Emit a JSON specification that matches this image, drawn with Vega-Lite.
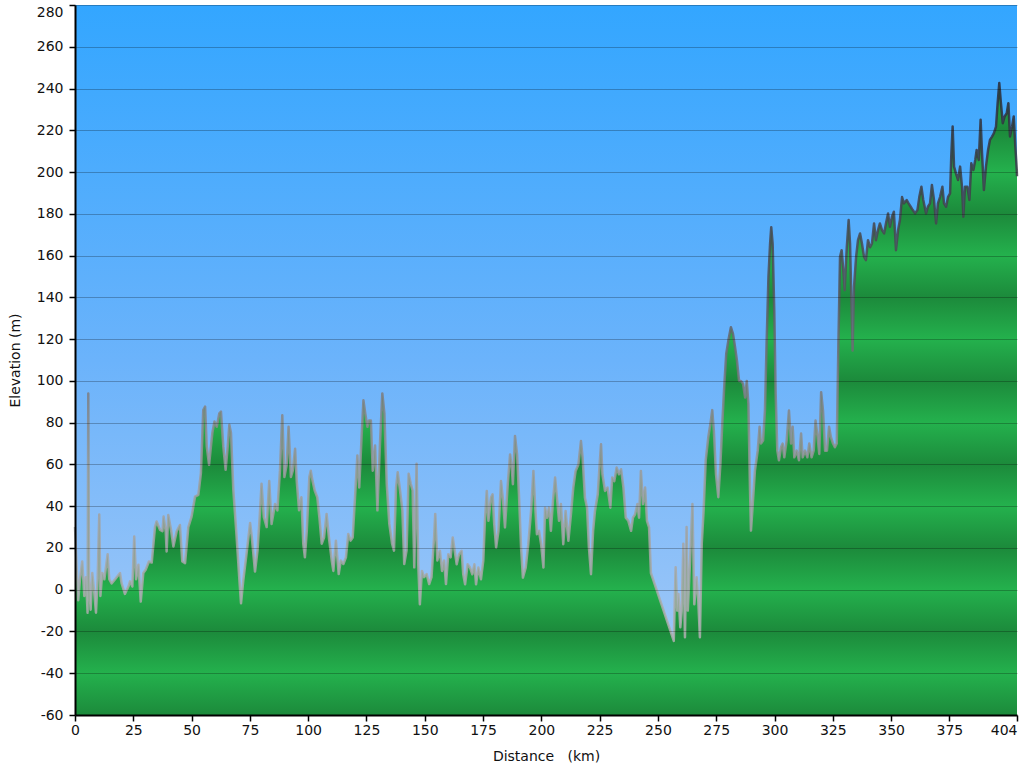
{
"$schema": "https://vega.github.io/schema/vega-lite/v6.json",
"width": 942, "height": 710,
"autosize": {"type": "none"},
"padding": {"left": 75, "top": 5, "right": 7, "bottom": 53},
"background": "white",
"config": {"view": {"stroke": null}},
"data": {"values": [
{"d":0,"e":30},{"d":0.7,"e":11},{"d":1.4,"e":-5},{"d":2.1,"e":4.7},{"d":3.1,"e":13.5},{"d":4.0,"e":-3},{"d":4.7,"e":6},{"d":5.4,"e":-11},{"d":5.7,"e":94},{"d":6.0,"e":4.7},{"d":6.7,"e":-9.6},{"d":7.4,"e":8},{"d":8.3,"e":-1.7},{"d":9.0,"e":-11},{"d":9.7,"e":4.7},{"d":10.4,"e":36},{"d":10.9,"e":-3},{"d":11.7,"e":8},{"d":12.6,"e":5},{"d":14.0,"e":17},{"d":14.7,"e":5},{"d":15.7,"e":3},{"d":17.2,"e":5},{"d":19.3,"e":8},{"d":20.0,"e":3},{"d":21.4,"e":-2},{"d":22.9,"e":1.5},{"d":23.6,"e":4},{"d":24.6,"e":1.5},{"d":25.4,"e":25.5},{"d":26.2,"e":5},{"d":27.2,"e":12},{"d":28.2,"e":-5.7},{"d":29.3,"e":8},{"d":30.3,"e":9.5},{"d":31.7,"e":13.5},{"d":32.9,"e":13},{"d":34.3,"e":30},{"d":35.0,"e":32.7},{"d":36.5,"e":28.6},{"d":37.5,"e":28},{"d":38.0,"e":35},{"d":38.9,"e":28},{"d":39.3,"e":18.3},{"d":40.0,"e":35.8},{"d":41.2,"e":28.6},{"d":42.2,"e":20.7},{"d":43.6,"e":28},{"d":45.0,"e":31},{"d":46.0,"e":13.5},{"d":47.2,"e":12.7},{"d":48.6,"e":30},{"d":50.0,"e":35},{"d":51.5,"e":44.6},{"d":52.9,"e":45.4},{"d":54.0,"e":55.8},{"d":55.0,"e":86},{"d":55.8,"e":87.7},{"d":56.5,"e":68.6},{"d":57.5,"e":59.8},{"d":58.3,"e":68.6},{"d":58.9,"e":75},{"d":59.8,"e":80.5},{"d":60.8,"e":78},{"d":61.9,"e":84.5},{"d":62.6,"e":85.3},{"d":63.6,"e":68.6},{"d":64.6,"e":57.4},{"d":65.5,"e":68.6},{"d":66.2,"e":79},{"d":66.9,"e":75},{"d":67.9,"e":47.8},{"d":69.3,"e":25.5},{"d":70.5,"e":4.7},{"d":71.2,"e":-6.5},{"d":72.2,"e":4.7},{"d":73.6,"e":17.5},{"d":75.1,"e":32},{"d":75.8,"e":25.5},{"d":77.2,"e":8.7},{"d":78.3,"e":19},{"d":79.3,"e":36.6},
{"d":80.0,"e":50.7},{"d":81.0,"e":34.7},{"d":82.2,"e":30},{"d":83.3,"e":52},{"d":84.3,"e":31.5},{"d":85.8,"e":41},{"d":86.8,"e":38},{"d":87.9,"e":57},{"d":88.9,"e":83.5},{"d":89.8,"e":54},{"d":90.8,"e":60},{"d":91.6,"e":78},{"d":92.6,"e":54},{"d":93.4,"e":57},{"d":94.4,"e":67.5},{"d":95.1,"e":52},{"d":96.1,"e":38},{"d":97.1,"e":44.3},{"d":97.9,"e":22},{"d":98.6,"e":15.5},{"d":99.4,"e":28},{"d":100.5,"e":54},{"d":101.1,"e":57},{"d":101.9,"e":52},{"d":102.8,"e":47.5},{"d":103.9,"e":44.3},{"d":104.8,"e":34.7},{"d":105.8,"e":22},{"d":106.8,"e":25},{"d":107.9,"e":36.3},{"d":108.9,"e":25},{"d":110.1,"e":14},{"d":110.8,"e":9},{"d":111.9,"e":23.5},{"d":113.1,"e":7.5},{"d":114.0,"e":14},{"d":115.1,"e":12.3},{"d":116.2,"e":15.5},{"d":117.2,"e":26.7},{"d":118.2,"e":23.5},{"d":119.1,"e":25},{"d":120.1,"e":44.3},{"d":121.1,"e":64.3},{"d":121.9,"e":49},{"d":122.9,"e":73},{"d":123.7,"e":90.7},{"d":124.5,"e":84.3},{"d":125.4,"e":78},{"d":126.1,"e":81},{"d":126.9,"e":81},{"d":127.7,"e":57},{"d":128.7,"e":69},{"d":129.7,"e":38},{"d":130.8,"e":70},{"d":131.8,"e":94},{"d":132.7,"e":84.3},{"d":133.7,"e":50.7},{"d":134.8,"e":31.5},{"d":136.0,"e":22},{"d":136.8,"e":18.7},{"d":137.7,"e":49},{"d":138.4,"e":56.3},{"d":139.4,"e":47.5},{"d":140.4,"e":38},{"d":141.2,"e":12.3},{"d":142.2,"e":18.7},{"d":143.1,"e":55.5},{"d":144.0,"e":50.7},{"d":144.8,"e":47.5},{"d":145.5,"e":10.7},{"d":146.5,"e":60.3},{"d":147.2,"e":12.3},{"d":147.9,"e":-7},{"d":148.8,"e":9},{"d":149.7,"e":6},{"d":150.8,"e":7.5},{"d":151.9,"e":2.7},{"d":152.9,"e":6},{"d":154.0,"e":25},{"d":154.5,"e":36.3},{"d":155.4,"e":14},{"d":156.5,"e":18.7},{"d":157.4,"e":9},{"d":158.3,"e":14},{"d":159.1,"e":2.7},{"d":160.1,"e":17},{"d":161.1,"e":15.5},{"d":162.0,"e":25},
{"d":163.7,"e":12.2},{"d":164.7,"e":17},{"d":165.8,"e":18.6},{"d":166.5,"e":7.4},{"d":167.3,"e":2.6},{"d":168.4,"e":12.2},{"d":169.4,"e":10.6},{"d":170.4,"e":7.4},{"d":171.3,"e":12.2},{"d":172.0,"e":2.6},{"d":173.0,"e":10.6},{"d":174.1,"e":5},{"d":175.1,"e":13.8},{"d":175.8,"e":33},{"d":176.6,"e":47.3},{"d":177.3,"e":33},{"d":178.4,"e":44},{"d":179.1,"e":45.7},{"d":179.8,"e":31.4},{"d":180.6,"e":20.2},{"d":181.6,"e":28},{"d":182.7,"e":52},{"d":183.6,"e":42.5},{"d":184.4,"e":29.8},{"d":185.6,"e":50.5},{"d":186.6,"e":64.8},{"d":187.3,"e":58.5},{"d":187.8,"e":50.5},{"d":188.7,"e":73.6},{"d":189.6,"e":64.8},{"d":190.4,"e":45.7},{"d":191.3,"e":20.2},{"d":192.1,"e":5.8},{"d":193.3,"e":10.6},{"d":194.4,"e":21.8},{"d":195.6,"e":37.7},{"d":196.6,"e":56.9},{"d":197.3,"e":41},{"d":198.1,"e":26.6},{"d":199.0,"e":28.2},{"d":199.9,"e":21.8},{"d":200.9,"e":10.6},{"d":201.6,"e":39.3},{"d":202.4,"e":34.5},{"d":203.3,"e":39.3},{"d":204.1,"e":28.2},{"d":205.0,"e":42.5},{"d":205.9,"e":53.7},{"d":206.7,"e":44},{"d":207.6,"e":33},{"d":208.4,"e":41},{"d":209.4,"e":21.8},{"d":210.4,"e":37.7},{"d":211.6,"e":23.4},{"d":212.7,"e":36.1},{"d":213.7,"e":48.9},{"d":214.7,"e":56.9},{"d":215.9,"e":60},{"d":217.0,"e":71.2},{"d":217.7,"e":63.2},{"d":218.7,"e":44},{"d":219.6,"e":39.3},{"d":220.4,"e":20.2},{"d":221.3,"e":7.4},{"d":222.2,"e":28.2},{"d":223.0,"e":37.7},{"d":224.2,"e":45.7},{"d":225.0,"e":60},{"d":225.6,"e":69.6},{"d":226.2,"e":55.3},{"d":227.3,"e":47.3},{"d":228.4,"e":48.9},{"d":229.6,"e":39.3},{"d":230.4,"e":53.7},{"d":231.3,"e":52},{"d":232.3,"e":58.5},{"d":233.3,"e":55.3},{"d":234.2,"e":57.7},{"d":235.2,"e":48.9},{"d":236.2,"e":34.5},{"d":237.3,"e":33},{"d":238.5,"e":28.2},{"d":239.3,"e":34.5},{"d":240.2,"e":36.1},{"d":241.2,"e":41},{"d":241.9,"e":34.5},{"d":242.7,"e":56.9},{"d":243.6,"e":41},{"d":244.5,"e":48.9},{"d":245.3,"e":33},{"d":246.2,"e":29.8},{"d":247.0,"e":8},{"d":247.6,"e":6},{"d":256.8,"e":-24.5},
{"d":257.6,"e":10.7},{"d":258.3,"e":-10},{"d":258.8,"e":-2},{"d":259.6,"e":-18},{"d":260.2,"e":-10},{"d":260.9,"e":22},{"d":261.6,"e":-22.8},{"d":262.3,"e":30},{"d":262.8,"e":-10},{"d":263.8,"e":14},{"d":264.8,"e":41},{"d":265.6,"e":-7},{"d":266.6,"e":6},{"d":267.3,"e":-5},{"d":268.0,"e":-22.8},{"d":268.8,"e":22},{"d":269.6,"e":38},{"d":270.5,"e":62},{"d":271.6,"e":73},{"d":272.5,"e":79.4},{"d":273.3,"e":86},{"d":274.0,"e":76},{"d":274.9,"e":55.4},{"d":275.9,"e":44.3},{"d":276.8,"e":60.2},{"d":277.6,"e":79.4},{"d":278.5,"e":98.6},{"d":279.3,"e":113},{"d":280.2,"e":119.3},{"d":281.3,"e":125.7},{"d":282.2,"e":122.5},{"d":283.1,"e":116},{"d":283.9,"e":109.7},{"d":284.8,"e":100},{"d":285.6,"e":100},{"d":286.5,"e":98.6},{"d":287.4,"e":92},{"d":288.1,"e":100},{"d":288.8,"e":89},{"d":289.5,"e":47.5},{"d":289.9,"e":28.3},{"d":290.5,"e":38},{"d":291.6,"e":57},{"d":292.8,"e":66.6},{"d":293.6,"e":78},{"d":294.2,"e":70},{"d":295.1,"e":71.4},{"d":295.9,"e":85.8},{"d":296.6,"e":117.7},{"d":297.4,"e":149.7},{"d":298.1,"e":165.6},{"d":298.6,"e":173.6},{"d":299.2,"e":165.6},{"d":299.9,"e":133.7},{"d":300.5,"e":93.8},{"d":301.2,"e":66.6},{"d":301.9,"e":62},{"d":302.8,"e":68.2},{"d":303.5,"e":70},{"d":304.2,"e":63.4},{"d":305.2,"e":71.4},{"d":306.2,"e":85.8},{"d":307.1,"e":70},{"d":307.8,"e":78},{"d":308.5,"e":63.4},{"d":309.5,"e":66.6},{"d":310.5,"e":62},{"d":311.4,"e":74.8},{"d":312.1,"e":63.4},{"d":313.1,"e":66.6},{"d":314.1,"e":63.4},{"d":314.9,"e":70},{"d":315.9,"e":63.4},{"d":316.8,"e":66.6},{"d":317.6,"e":81},{"d":318.5,"e":73},{"d":319.2,"e":65},{"d":320.0,"e":94.6},{"d":320.8,"e":85.8},{"d":321.7,"e":66.6},{"d":322.5,"e":66.6},{"d":323.4,"e":78},{"d":324.2,"e":73},{"d":325.1,"e":70},{"d":325.9,"e":68.2},{"d":326.7,"e":70},{"d":327.4,"e":117.7},
{"d":328.1,"e":159.4},{"d":328.8,"e":162.6},{"d":329.5,"e":153},{"d":330.1,"e":143.4},{"d":331.0,"e":164},{"d":331.8,"e":177},{"d":332.4,"e":165.8},{"d":333.0,"e":137},{"d":333.5,"e":114.6},{"d":334.1,"e":145},{"d":335.0,"e":159.4},{"d":335.8,"e":167.4},{"d":336.7,"e":170.6},{"d":337.5,"e":165.8},{"d":338.4,"e":159.4},{"d":339.2,"e":157.8},{"d":340.1,"e":167.4},{"d":341.0,"e":164},{"d":341.8,"e":165.8},{"d":342.7,"e":175.4},{"d":343.5,"e":167.4},{"d":344.4,"e":172.2},{"d":345.2,"e":175.4},{"d":346.1,"e":172.2},{"d":347.0,"e":170.6},{"d":347.8,"e":175.4},{"d":348.7,"e":180.2},{"d":349.5,"e":173.8},{"d":350.4,"e":178.6},{"d":351.2,"e":181},{"d":352.1,"e":162.6},{"d":353.0,"e":172.2},{"d":353.8,"e":177},{"d":354.7,"e":188},{"d":355.5,"e":185},{"d":356.7,"e":186.6},{"d":357.5,"e":185},{"d":358.4,"e":183.4},{"d":359.3,"e":181.8},{"d":360.3,"e":180.2},{"d":361.3,"e":181.8},{"d":362.1,"e":188},{"d":363.0,"e":193},{"d":363.8,"e":186.6},{"d":365.0,"e":180.2},{"d":365.8,"e":183.4},{"d":366.7,"e":185},{"d":367.5,"e":193.8},{"d":368.4,"e":186.6},{"d":369.3,"e":175.4},{"d":370.1,"e":185},{"d":371.0,"e":188},{"d":372.0,"e":193},{"d":372.7,"e":185},{"d":373.6,"e":183.4},{"d":374.4,"e":188},{"d":375.3,"e":189.8},{"d":375.8,"e":207.4},{"d":376.4,"e":221.8},{"d":377.0,"e":202.6},{"d":377.8,"e":199.4},{"d":378.7,"e":196.2},{"d":379.6,"e":202.6},{"d":380.4,"e":193},{"d":381.0,"e":178.6},{"d":381.7,"e":193},{"d":382.7,"e":193},{"d":383.6,"e":186.6},{"d":384.4,"e":204.2},{"d":385.3,"e":201},{"d":386.1,"e":205.8},{"d":386.7,"e":210.6},{"d":387.6,"e":205.8},{"d":388.4,"e":225},{"d":389.0,"e":209},{"d":389.8,"e":191.4},{"d":390.7,"e":202.6},{"d":391.6,"e":210.6},{"d":392.4,"e":215.4},{"d":393.3,"e":217},{"d":394.1,"e":218.6},{"d":395.0,"e":221.8},{"d":395.7,"e":233},{"d":396.4,"e":242.6},{"d":397.1,"e":233},{"d":397.9,"e":223.4},{"d":398.7,"e":226.6},{"d":399.6,"e":228.2},{"d":400.3,"e":233},{"d":401.0,"e":217},{"d":401.9,"e":221.8},{"d":402.6,"e":226.6},{"d":403.3,"e":212},{"d":403.9,"e":201},{"d":404,"e":198}
]},
"layer": [
{
"data": {"values": [{}]},
"mark": {"type": "rect", "fill": {"gradient": "linear", "x1": 0, "y1": 0, "x2": 0, "y2": 1, "stops": [{"offset": 0, "color": "#33a6ff"}, {"offset": 0.5, "color": "#6bb3fb"}, {"offset": 1, "color": "#a9cbf6"}]}},
"encoding": {
"x": {"datum": 0, "type": "quantitative", "scale": {"domain": [0, 404], "nice": false, "zero": false}},
"x2": {"datum": 404},
"y": {"datum": -60, "type": "quantitative", "scale": {"domain": [-60, 280], "nice": false, "zero": false}},
"y2": {"datum": 280}
}
},
{
"mark": {"type": "area", "interpolate": "linear", "fill": {"gradient": "linear", "x1": 0, "y1": 0, "x2": 0, "y2": 1, "stops": [
{"offset": 0, "color": "#24b14d"},
{"offset": 0.0747, "color": "#1c8a3b"},
{"offset": 0.1408, "color": "#24b14d"},
{"offset": 0.2069, "color": "#1c8a3b"},
{"offset": 0.2730, "color": "#24b14d"},
{"offset": 0.3391, "color": "#1c8a3b"},
{"offset": 0.4052, "color": "#24b14d"},
{"offset": 0.4713, "color": "#1c8a3b"},
{"offset": 0.5374, "color": "#24b14d"},
{"offset": 0.6034, "color": "#1c8a3b"},
{"offset": 0.6695, "color": "#24b14d"},
{"offset": 0.7356, "color": "#1c8a3b"},
{"offset": 0.8017, "color": "#24b14d"},
{"offset": 0.8678, "color": "#1c8a3b"},
{"offset": 0.9339, "color": "#24b14d"},
{"offset": 1, "color": "#1c8a3b"}
]}},
"encoding": {
"x": {"field": "d", "type": "quantitative", "scale": {"domain": [0, 404], "nice": false, "zero": false},
"axis": {"values": [0, 25, 50, 75, 100, 125, 150, 175, 200, 225, 250, 275, 300, 325, 350, 375, 404], "title": "Distance\u00a0\u00a0\u00a0(km)", "grid": false, "zindex": 1,
"domainColor": "#000", "domainWidth": 2, "tickColor": "#000", "tickSize": 6, "tickWidth": 1.5,
"labelFont": "DejaVu Sans", "labelFontSize": 14, "labelColor": "#111", "labelPadding": 2, "labelDx": -3, "labelOverlap": false, "labelBound": false, "labelFlush": false,
"labelAlign": {"condition": {"test": "datum.value == 404", "value": "right"}, "value": "center"},
"titleFont": "DejaVu Sans", "titleFontSize": 14, "titleFontWeight": "normal", "titleColor": "#111", "titlePadding": 12}},
"y": {"field": "e", "type": "quantitative", "scale": {"domain": [-60, 280], "nice": false, "zero": false},
"axis": {"values": [-60, -40, -20, 0, 20, 40, 60, 80, 100, 120, 140, 160, 180, 200, 220, 240, 260, 280], "title": "Elevation (m)", "grid": true, "gridColor": "#000", "gridOpacity": 0.25, "gridWidth": 1, "zindex": 1,
"domainColor": "#000", "domainWidth": 2, "tickColor": "#000", "tickSize": 6, "tickWidth": 1.5,
"labelExpr": "replace(datum.label, '\u2212', '-')",
"labelFont": "DejaVu Sans", "labelFontSize": 14, "labelColor": "#111", "labelPadding": 6, "labelOverlap": false, "labelBound": false, "labelFlush": false,
"labelBaseline": {"condition": {"test": "datum.value == 280", "value": "top"}, "value": "middle"},
"titleFont": "DejaVu Sans", "titleFontSize": 14, "titleFontWeight": "normal", "titleColor": "#111", "titlePadding": 14}},
"y2": {"datum": -60}
}
},
{
"mark": {"type": "line", "interpolate": "linear", "strokeWidth": 2.5, "strokeJoin": "round", "opacity": 0.85, "stroke": {"gradient": "linear", "x1": 0, "y1": 0, "x2": 0, "y2": 1, "stops": [{"offset": 0, "color": "#2a2a38"}, {"offset": 0.35, "color": "#505058"}, {"offset": 0.55, "color": "#7c7c80"}, {"offset": 0.7, "color": "#9c9c9c"}, {"offset": 1, "color": "#b0b0b0"}]}},
"encoding": {
"x": {"field": "d", "type": "quantitative"},
"y": {"field": "e", "type": "quantitative"}
}
}
]
}
